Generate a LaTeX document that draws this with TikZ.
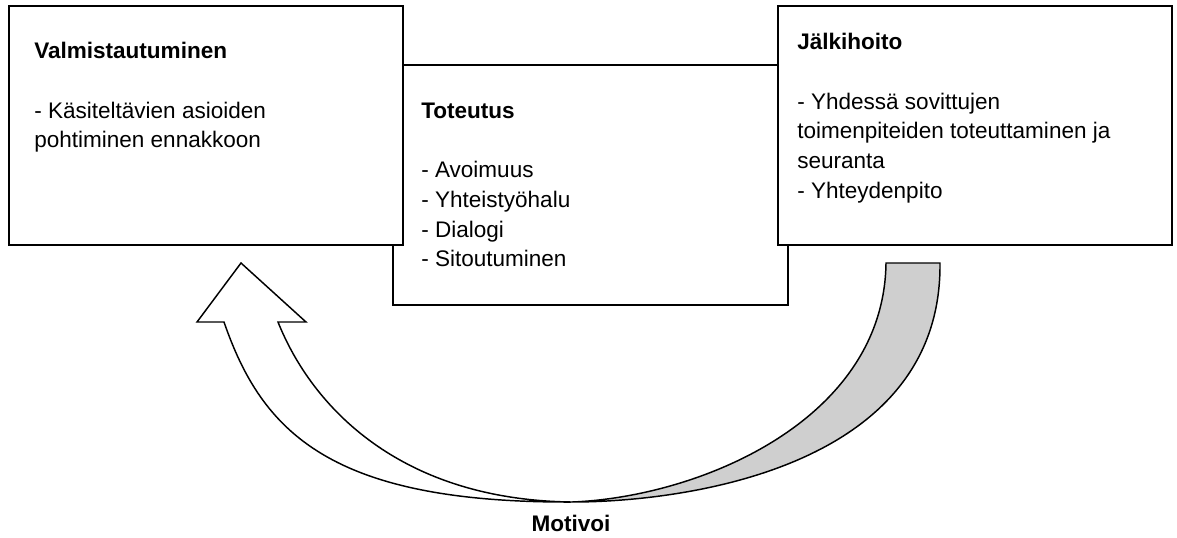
\documentclass[tikz,border=0pt]{standalone}
\usepackage{fontspec}
\setmainfont{Liberation Sans}
\begin{document}
\begin{tikzpicture}[x=0.75pt,y=-0.75pt,
  sidebox/.style={draw=black, fill=white, rectangle, inner sep=0pt, line width=1.25pt,
    minimum width=295.5pt, minimum height=179.25pt},
  midbox/.style={draw=black, fill=white, rectangle, inner sep=0pt, line width=0.8pt,
    minimum width=296.25pt, minimum height=180pt},
  txt/.style={anchor=north west, inner sep=0pt, align=left,
    font=\fontsize{16.9}{22.3}\selectfont},
  blockarrow/.style={draw=black, line width=1.1pt, line join=miter},
  lbl/.style={inner sep=0pt, font=\fontsize{16.9}{22.3}\selectfont\bfseries}
]
\useasboundingbox (0,0) rectangle (1177,537);

% boxes
\node[midbox]  (toteutus) at (590.5,185) {};
\node[sidebox] (valm)     at (206,125.5) {};
\node[sidebox] (jalki)    at (975,125.5) {};

% texts
\node[txt] (valmtxt) at (34,42) {\rule{0pt}{12pt}\textbf{Valmistautuminen}\\[22.3pt]- Käsiteltävien asioiden\\pohtiminen ennakkoon};
\node[txt] (tottxt) at (421,102) {\rule{0pt}{12pt}\textbf{Toteutus}\\[22.3pt]- Avoimuus\\- Yhteistyöhalu\\- Dialogi\\- Sitoutuminen};
\node[txt] (jalktxt) at (797,33) {\rule{0pt}{12pt}\textbf{Jälkihoito}\\[22.3pt]- Yhdessä sovittujen\\toimenpiteiden toteuttaminen ja\\seuranta\\- Yhteydenpito};

% curved block arrow
\coordinate (cusp) at (572,502);
\coordinate (ho) at (224,322);
\coordinate (hl) at (197,322);
\coordinate (tip) at (241,263);
\coordinate (hr) at (306,322);
\coordinate (hi) at (278,322);
\coordinate (go) at (940,263);
\coordinate (gi) at (886,263);

\draw[blockarrow, fill=black!19] (cusp) .. controls (680,502) and (942,470) .. (go)
  -- (gi) .. controls (884,420) and (700,497) .. (cusp) -- cycle;
\draw[blockarrow, fill=white] (cusp) .. controls (330,503) and (262,432) .. (ho)
  -- (hl) -- (tip) -- (hr) -- (hi) .. controls (312,407) and (400,500) .. (cusp) -- cycle;

\node[lbl] (motivoi) at (571,523) {Motivoi};
\end{tikzpicture}
\end{document}
